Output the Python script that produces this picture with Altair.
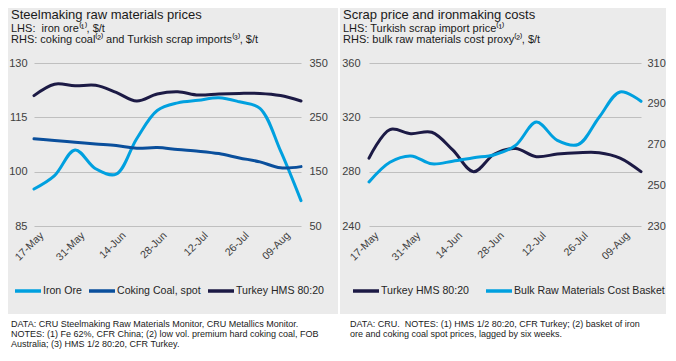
import altair as alt
import pandas as pd

FONT = "Liberation Sans"
BG = "#ebebeb"
GRID = "#bfbfbf"
LABEL = "#404040"
TEXT = "#1a1a1a"
LIGHT = "#00a0df"
MID = "#0a4f9c"
DARK = "#1c1a45"

# ---------------- data ----------------
weeks = ["17-May", "24-May", "31-May", "07-Jun", "14-Jun", "21-Jun", "28-Jun",
         "05-Jul", "12-Jul", "19-Jul", "26-Jul", "02-Aug", "09-Aug", "16-Aug"]
tick_weeks = ["17-May", "31-May", "14-Jun", "28-Jun", "12-Jul", "26-Jul", "09-Aug"]

iron_ore = [95.2, 98.9, 106.0, 100.8, 99.3, 109.1, 116.9, 119.0, 119.7, 120.4, 119.3, 117.5, 105.8, 92.0]
coking_coal = [210.5, 207.4, 204.3, 201.0, 198.0, 193.0, 194.4, 190.7, 187.7, 183.3, 175.3, 168.0, 157.0, 159.3]
turkey_hms = [290, 311, 308, 309, 296, 280, 293, 297, 291, 293, 294, 294, 290, 280]
bulk_basket = [251.6, 261.3, 264.4, 260.5, 261.8, 263.5, 265.0, 269.5, 281.0, 272.0, 270.0, 283.4, 295.8, 291.2]

left_series = ["Iron Ore", "Coking Coal, spot", "Turkey HMS 80:20"]
left_colors = [LIGHT, MID, DARK]
right_series = ["Turkey HMS 80:20", "Bulk Raw Materials Cost Basket"]
right_colors = [DARK, LIGHT]

left_l_domain, left_l_ticks = [85, 130], [85, 100, 115, 130]
left_r_domain, left_r_ticks = [50, 350], [50, 150, 250, 350]
right_l_domain, right_l_ticks = [240, 360], [240, 280, 320, 360]
right_r_domain, right_r_ticks = [230, 310], [230, 250, 270, 290, 310]

left_title = "Steelmaking raw materials prices"
left_sub = ["LHS:\u00a0 iron ore\u207d\u00b9\u207e, $/t",
            "RHS: coking coal\u207d\u00b2\u207e and Turkish scrap imports\u207d\u00b3\u207e, $/t"]
left_notes = ["DATA: CRU Steelmaking Raw Materials Monitor, CRU Metallics Monitor.",
              "NOTES: (1) Fe 62%, CFR China; (2) low vol. premium hard coking coal, FOB",
              "Australia; (3) HMS 1/2 80:20, CFR Turkey."]
right_title = "Scrap price and ironmaking costs"
right_sub = ["LHS: Turkish scrap import price\u207d\u00b9\u207e",
             "RHS: bulk raw materials cost proxy\u207d\u00b2\u207e, $/t"]
right_notes = ["DATA: CRU.\u00a0 NOTES: (1) HMS 1/2 80:20, CFR Turkey; (2) basket of iron",
               "ore and coking coal spot prices, lagged by six weeks."]

# ---------------- layout ----------------
H = 163
W1 = 267
W2 = 272
one = pd.DataFrame({"k": [0]})


def frame(name, values):
    return pd.DataFrame({"week": weeks, "series": name, "value": values})


def x_enc():
    return alt.X("week:O", sort=weeks, scale=alt.Scale(type="point", padding=0),
                 axis=alt.Axis(values=tick_weeks, labelAngle=-45, title=None, ticks=False,
                               domain=False, grid=False, labelPadding=4, labelOffset=4,
                               labelOverlap=False, labelFontSize=10.6, labelColor=LABEL))


def y_enc(domain, ticks, orient, grid, pad):
    return alt.Y("value:Q", scale=alt.Scale(domain=domain, nice=False, zero=False),
                 axis=alt.Axis(orient=orient, values=ticks, grid=grid, gridColor=GRID,
                               gridWidth=1, ticks=False, domain=False, title=None,
                               labelPadding=pad, labelFontSize=11, labelColor=LABEL))


def color_enc(domain, rng, lx, ly, colpad):
    return alt.Color("series:N", scale=alt.Scale(domain=domain, range=rng),
                     legend=alt.Legend(title=None, orient="none", legendX=lx, legendY=ly,
                                       direction="horizontal", symbolType="stroke",
                                       symbolSize=676, symbolStrokeWidth=3.5,
                                       labelFontSize=10.6, labelColor="#262626",
                                       labelOffset=0, columnPadding=colpad, padding=0))


def lines(df, y, color):
    return alt.Chart(df).mark_line(interpolate="catmull-rom", strokeWidth=3,
                                   strokeCap="round").encode(x=x_enc(), y=y, color=color)


def label(s, x, y, size, baseline="alphabetic", color=TEXT):
    return alt.Chart(one).mark_text(text=s, align="left", baseline=baseline, font=FONT,
                                    fontSize=size, color=color).encode(
        x=alt.value(x), y=alt.value(y))


def box(x0, x1, y0, y1, colour, opacity=1):
    return alt.Chart(one).mark_rect(color=colour, opacity=opacity).encode(
        x=alt.value(x0), x2=alt.value(x1), y=alt.value(y0), y2=alt.value(y1))


def texts(title, subs, notes, tx, nx):
    out = [label(title, tx, -44, 13)]
    for i, s in enumerate(subs):
        out.append(label(s, tx, -31.5 + 11.5 * i, 11))
    for i, s in enumerate(notes):
        out.append(label(s, nx, 261 + 10 * i, 9, baseline="middle"))
    return out


left_colour = color_enc(left_series, left_colors, -21, 213, 0)
left = alt.layer(
    box(-26, W1 + 37, -55, 251, BG, 0),
    box(-26, W1 + 37, 251, 287, "white"),
    lines(frame("Iron Ore", iron_ore),
          y_enc(left_l_domain, left_l_ticks, "left", True, 7), left_colour),
    lines(pd.concat([frame("Coking Coal, spot", coking_coal),
                     frame("Turkey HMS 80:20", turkey_hms)]),
          y_enc(left_r_domain, left_r_ticks, "right", False, 8), left_colour),
    *texts(left_title, left_sub, left_notes, -23, -23),
).resolve_scale(y="independent").properties(width=W1, height=H)

right_colour = color_enc(right_series, right_colors, -18, 213, 10)
right = alt.layer(
    box(-29, W2 + 25, -55, 251, BG, 0),
    box(-31, W2 + 25, 251, 287, "white"),
    box(-31, -29, -55, 251, "white"),
    lines(frame("Turkey HMS 80:20", turkey_hms),
          y_enc(right_l_domain, right_l_ticks, "left", True, 9), right_colour),
    lines(frame("Bulk Raw Materials Cost Basket", bulk_basket),
          y_enc(right_r_domain, right_r_ticks, "right", False, 6), right_colour),
    *texts(right_title, right_sub, right_notes, -26, -19),
).resolve_scale(y="independent").properties(width=W2, height=H)

chart = alt.hconcat(left, right, spacing=68, bounds="flush").resolve_scale(
    x="independent", y="independent", color="independent"
).properties(padding=0, background=BG).configure_view(
    stroke=None).configure_axis(labelFont=FONT).configure_legend(labelFont=FONT)

chart.save("out.html", embed_options={"renderer": "svg", "actions": False})
